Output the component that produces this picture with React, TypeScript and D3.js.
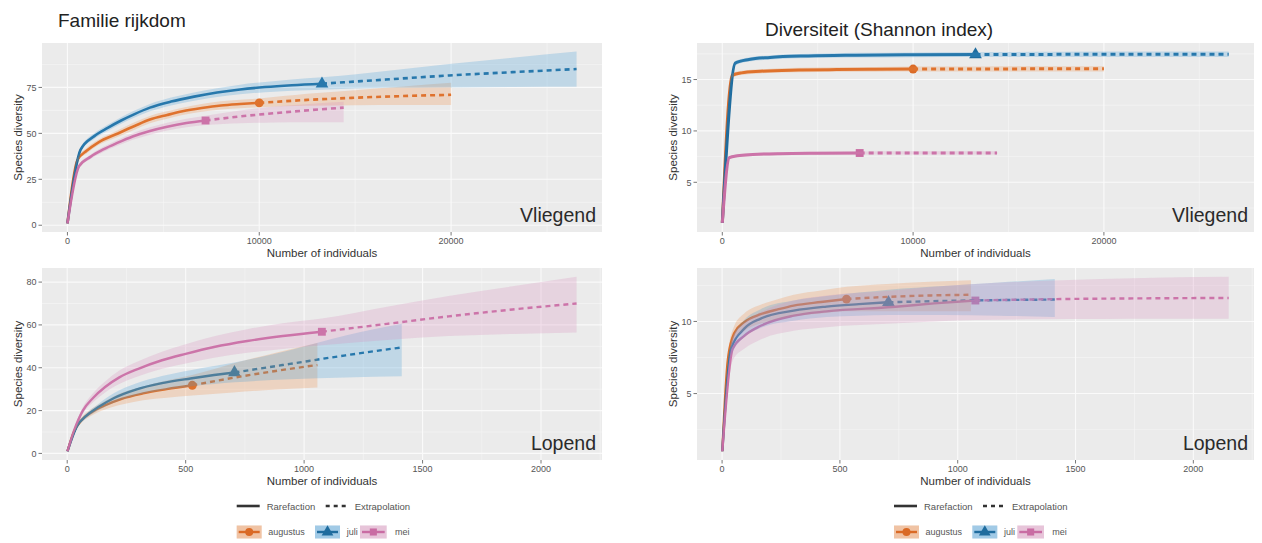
import React from 'react';
import * as d3 from 'd3';

type Pt = [number, number, number, number]; // [individuals, estimate, lower, upper]

const seriesNames = ['augustus', 'juli', 'mei'];
const lineColors = ['#DA6A26', '#1F6C9E', '#C96CA3'];
const fillColors = ['#EE8A45', '#3E9AD6', '#D98CBB'];
const shapeTypes = [d3.symbolCircle, d3.symbolTriangle, d3.symbolSquare];

// Vliegend – family richness
const richFlyAugustus: Pt[] = [
  [1, 1, 1, 1], [520, 35.5, 34.5, 36.5], [1000, 40.5, 39, 42], [1600, 45, 43.5, 46.5],
  [2600, 49.8, 48, 51.5], [3500, 54, 52, 56], [4300, 57.5, 55.5, 59.5], [5200, 60, 58, 62],
  [6000, 62, 60, 64], [7000, 63.8, 61.7, 66], [8000, 65.2, 63, 67.5], [9000, 66, 63.7, 68.3],
  [10000, 66.6, 64.2, 69], [12500, 68.2, 65, 71.5], [15000, 69.4, 65.3, 73.5],
  [17500, 70.3, 65.4, 75.5], [20000, 71, 65.4, 77.5],
];
const richFlyJuli: Pt[] = [
  [1, 1, 1, 1], [680, 41, 40, 42], [1400, 48.5, 47, 50], [2100, 53, 51.3, 54.7],
  [2800, 57, 55.2, 58.8], [3500, 60.5, 58.6, 62.4], [4300, 64, 62, 66], [5400, 67.3, 65.2, 69.5],
  [6600, 70, 67.8, 72.3], [7800, 72.2, 69.8, 74.6], [9000, 73.9, 71.3, 76.5], [10300, 75.2, 72.4, 78],
  [11700, 76.2, 73.2, 79.3], [13270, 77, 73.8, 80.5], [16600, 79.3, 74.8, 84],
  [19900, 81.5, 75, 87.8], [23200, 83.3, 75.2, 91.2], [26540, 85, 75.3, 94.5],
];
const richFlyMei: Pt[] = [
  [1, 1, 1, 1], [600, 32, 31, 33], [1200, 37.2, 36, 38.4], [1900, 41.4, 40, 42.8],
  [2600, 44.8, 43.2, 46.4], [3400, 48.3, 46.5, 50.1], [4300, 51.3, 49.3, 53.3], [5200, 53.6, 51.5, 55.8],
  [6200, 55.6, 53.3, 58], [7200, 57, 54.5, 59.6], [9000, 59.2, 55.5, 62.5], [10800, 61, 55.9, 64.6],
  [12600, 62.6, 56, 66], [14400, 64, 56, 67.2],
];

// Vliegend – Shannon diversity
const shanFlyAugustus: Pt[] = [
  [1, 1.05, 1, 1.1], [520, 15.4, 15.2, 15.6], [1000, 15.65, 15.45, 15.85], [2000, 15.8, 15.6, 16.0],
  [4000, 15.92, 15.7, 16.14], [6000, 15.97, 15.75, 16.2], [8000, 16.0, 15.77, 16.23],
  [10000, 16.02, 15.78, 16.26], [13300, 16.03, 15.78, 16.28], [16700, 16.04, 15.78, 16.3],
  [20000, 16.04, 15.78, 16.3],
];
const shanFlyJuli: Pt[] = [
  [1, 1.05, 1, 1.1], [680, 16.6, 16.4, 16.8], [1400, 16.95, 16.75, 17.15], [2500, 17.15, 16.95, 17.35],
  [4500, 17.3, 17.1, 17.5], [7000, 17.37, 17.15, 17.6], [10000, 17.41, 17.18, 17.64],
  [13270, 17.43, 17.2, 17.66], [17700, 17.45, 17.2, 17.7], [22100, 17.46, 17.2, 17.72],
  [26540, 17.46, 17.2, 17.72],
];
const shanFlyMei: Pt[] = [
  [1, 1.05, 1, 1.1], [370, 7.4, 7.3, 7.5], [800, 7.58, 7.46, 7.7], [1600, 7.7, 7.57, 7.83],
  [3000, 7.79, 7.65, 7.93], [5000, 7.83, 7.69, 7.97], [7200, 7.85, 7.7, 8.0],
  [9600, 7.86, 7.7, 8.02], [12000, 7.86, 7.7, 8.02], [14400, 7.86, 7.7, 8.03],
];

// Lopend – family richness
const richWalkAugustus: Pt[] = [
  [1, 1, 1, 1], [30, 10.5, 9.8, 11.2], [60, 15.5, 14.3, 16.7], [100, 19, 17.5, 20.6],
  [160, 22.5, 20.5, 24.5], [230, 25.5, 22.8, 28.3], [320, 28, 24.8, 31.3], [420, 30, 26, 34],
  [528, 31.8, 27, 36.6], [700, 35.3, 28.5, 42], [880, 38.5, 29.8, 47], [1056, 41.3, 30.8, 51.5],
];
const richWalkJuli: Pt[] = [
  [1, 1, 1, 1], [40, 12.5, 11.8, 13.2], [80, 17.5, 16.4, 18.6], [130, 21.5, 20, 23],
  [200, 26, 23.8, 28.3], [290, 29.8, 27, 32.6], [400, 32.8, 29.5, 36.1], [520, 35, 31.3, 38.8],
  [620, 36.6, 32.4, 40.8], [706, 37.8, 33.2, 42.5], [940, 41.8, 34.6, 48.2],
  [1175, 45.8, 35.4, 55], [1412, 49.5, 36, 60.5],
];
const richWalkMei: Pt[] = [
  [1, 1, 1, 1], [30, 11, 10.2, 11.8], [66, 20, 18.6, 21.5], [110, 26, 24, 28.2],
  [160, 31, 28.5, 33.6], [220, 35.5, 32.4, 38.7], [300, 39.5, 36, 43], [400, 43.5, 39.5, 47.5],
  [500, 46.5, 42, 51], [620, 49.7, 44.7, 54.7], [760, 52.5, 47, 58], [910, 54.8, 48.8, 60.8],
  [1075, 56.8, 50.5, 63], [1350, 60.5, 53, 68.5], [1610, 64, 54.8, 73.5],
  [1880, 67.2, 55.8, 78], [2150, 70, 56.5, 82.5],
];

// Lopend – Shannon diversity
const shanWalkAugustus: Pt[] = [
  [1, 1, 1, 1], [25, 7.4, 7, 7.8], [52, 9.2, 8.7, 9.7], [94, 9.95, 9.35, 10.55],
  [164, 10.5, 9.85, 11.15], [240, 10.85, 10.15, 11.55], [304, 11.1, 10.35, 11.85],
  [420, 11.35, 10.55, 12.15], [528, 11.55, 10.7, 12.4], [700, 11.7, 10.7, 12.6],
  [880, 11.8, 10.7, 12.75], [1056, 11.85, 10.7, 12.85],
];
const shanWalkJuli: Pt[] = [
  [1, 1, 1, 1], [38, 8.1, 7.6, 8.6], [94, 9.5, 8.9, 10.1], [164, 10.2, 9.55, 10.85],
  [304, 10.75, 10.05, 11.45], [443, 11.03, 10.3, 11.76], [580, 11.2, 10.4, 12.0],
  [706, 11.33, 10.45, 12.2], [940, 11.42, 10.45, 12.45], [1175, 11.48, 10.4, 12.7],
  [1412, 11.52, 10.3, 12.94],
];
const shanWalkMei: Pt[] = [
  [1, 1, 1, 1], [45, 8.1, 7.3, 8.9], [94, 9.0, 8.1, 9.9], [164, 9.7, 8.75, 10.65],
  [304, 10.4, 9.35, 11.45], [443, 10.7, 9.6, 11.8], [723, 11.0, 9.85, 12.15],
  [900, 11.25, 10.0, 12.4], [1075, 11.45, 10.1, 12.6], [1340, 11.53, 10.15, 12.8],
  [1610, 11.58, 10.17, 12.95], [1880, 11.61, 10.18, 13.05], [2150, 11.63, 10.18, 13.1],
];

const observedFly = [10000, 13270, 7200];
const observedWalk = [528, 706, 1075];

const xTicksFly = [0, 10000, 20000];
const xTicksWalk = [0, 500, 1000, 1500, 2000];
const yTicksRichFly = [0, 25, 50, 75];
const yTicksShanFly = [5, 10, 15];
const yTicksRichWalk = [0, 20, 40, 60, 80];
const yTicksShanWalk = [5, 10];

const FONT = "'Liberation Sans', Arial, Helvetica, sans-serif";

function minorBreaks(ticks: number[], dom: number[]) {
  const step = ticks.length > 1 ? ticks[1] - ticks[0] : 1;
  const out: number[] = [];
  for (let v = ticks[0] - step / 2; v <= dom[1]; v += step) {
    if (v >= dom[0]) out.push(v);
  }
  return out;
}

function Panel(props: {
  box: number[]; data: Pt[][]; observed: number[]; xTicks: number[]; yTicks: number[]; facet: string; lw: number;
}) {
  const { box, data, observed, xTicks, yTicks, facet, lw } = props;
  const [x0, x1, y0, y1] = box;
  const all = data.flat();
  const xmin = d3.min(all, d => d[0])!, xmax = d3.max(all, d => d[0])!;
  const ymin = d3.min(all, d => d[2])!, ymax = d3.max(all, d => d[3])!;
  const xr = xmax - xmin, yr = ymax - ymin;
  const x = d3.scaleLinear().domain([xmin - 0.05 * xr, xmax + 0.05 * xr]).range([x0, x1]);
  const y = d3.scaleLinear().domain([ymin - 0.05 * yr, ymax + 0.05 * yr]).range([y1, y0]);
  const xMinor = minorBreaks(xTicks, x.domain());
  const yMinor = minorBreaks(yTicks, y.domain());
  const line = d3.line<Pt>().x(d => x(d[0])).y(d => y(d[1])).curve(d3.curveMonotoneX);
  const area = d3.area<Pt>().x(d => x(d[0])).y0(d => y(d[2])).y1(d => y(d[3])).curve(d3.curveMonotoneX);

  return (
    <g>
      <rect x={x0} y={y0} width={x1 - x0} height={y1 - y0} fill="#EBEBEB" />
      {xMinor.map(v => <line key={'xm' + v} x1={x(v)} x2={x(v)} y1={y0} y2={y1} stroke="#F7F7F7" strokeWidth={0.6} />)}
      {yMinor.map(v => <line key={'ym' + v} x1={x0} x2={x1} y1={y(v)} y2={y(v)} stroke="#F7F7F7" strokeWidth={0.6} />)}
      {xTicks.map(v => <line key={'xg' + v} x1={x(v)} x2={x(v)} y1={y0} y2={y1} stroke="#FAFAFA" strokeWidth={1.1} />)}
      {yTicks.map(v => <line key={'yg' + v} x1={x0} x2={x1} y1={y(v)} y2={y(v)} stroke="#FAFAFA" strokeWidth={1.1} />)}
      {data.map((s, i) => {
        const p = s.find(d => d[0] === observed[i])!;
        const sym = d3.symbol().type(shapeTypes[i]).size(i === 1 ? 70 : 62)();
        return <path key={'pt' + i} d={sym || ''} transform={`translate(${x(p[0])},${y(p[1])})`} fill={lineColors[i]} />;
      })}
      {data.map((s, i) => (
        <g key={'ln' + i}>
          <path d={line(s.filter(d => d[0] <= observed[i])) || ''} fill="none" stroke={lineColors[i]} strokeWidth={lw} />
          <path d={line(s.filter(d => d[0] >= observed[i])) || ''} fill="none" stroke={lineColors[i]} strokeWidth={lw} strokeDasharray="5 4" />
        </g>
      ))}
      {data.map((s, i) => (
        <path key={'rb' + i} d={area(s) || ''} fill={fillColors[i]} fillOpacity={0.25} stroke="none" />
      ))}
      {xTicks.map(v => (
        <g key={'xt' + v}>
          <line x1={x(v)} x2={x(v)} y1={y1} y2={y1 + 3.5} stroke="#555" strokeWidth={0.8} />
          <text x={x(v)} y={y1 + 11.5} fontSize={9} fill="#555" textAnchor="middle">{String(v)}</text>
        </g>
      ))}
      {yTicks.map(v => (
        <g key={'yt' + v}>
          <line x1={x0 - 3.5} x2={x0} y1={y(v)} y2={y(v)} stroke="#555" strokeWidth={0.8} />
          <text x={x0 - 5.5} y={y(v) + 3.2} fontSize={9} fill="#555" textAnchor="end">{String(v)}</text>
        </g>
      ))}
      <text x={(x0 + x1) / 2} y={y1 + 24.5} fontSize={11.5} fill="#333" textAnchor="middle">Number of individuals</text>
      <text transform={`translate(${x0 - 24},${(y0 + y1) / 2}) rotate(-90)`} fontSize={11.5} fill="#333" textAnchor="middle" dominantBaseline="central">Species diversity</text>
      <text x={x1 - 6} y={y1 - 10} fontSize={19.5} fill="#2A2A2A" textAnchor="end">{facet}</text>
    </g>
  );
}

function Legend({ x0, y0 }: { x0: number; y0: number }) {
  const y2 = y0 + 26;
  const boxX = [0, 78.3, 123.3];
  const boxW = [25, 25, 26.7];
  const textX = [31.6, 110, 158.3];
  return (
    <g>
      <line x1={x0} x2={x0 + 23} y1={y0} y2={y0} stroke="#333" strokeWidth={2.6} />
      <text x={x0 + 30} y={y0 + 3.5} fontSize={9.5} fill="#555">Rarefaction</text>
      <line x1={x0 + 89} x2={x0 + 110} y1={y0} y2={y0} stroke="#333" strokeWidth={2.6} strokeDasharray="4 4" />
      <text x={x0 + 118} y={y0 + 3.5} fontSize={9.5} fill="#555">Extrapolation</text>
      {seriesNames.map((n, i) => {
        const bx = x0 + boxX[i];
        const sym = d3.symbol().type(shapeTypes[i]).size(i === 1 ? 60 : 50)();
        return (
          <g key={n}>
            <rect x={bx} y={y2 - 6.5} width={boxW[i]} height={13} fill="#F2F2F2" />
            <rect x={bx} y={y2 - 6.5} width={boxW[i]} height={13} fill={fillColors[i]} fillOpacity={0.45} />
            <line x1={bx + 2} x2={bx + boxW[i] - 2} y1={y2} y2={y2} stroke={lineColors[i]} strokeWidth={2.4} />
            <path d={sym || ''} transform={`translate(${bx + boxW[i] / 2},${y2})`} fill={lineColors[i]} />
            <text x={x0 + textX[i]} y={y2 + 3.3} fontSize={9} fill="#555">{n}</text>
          </g>
        );
      })}
    </g>
  );
}

export default function App() {
  return (
    <svg width={1262} height={543} style={{ position: 'absolute', left: 0, top: 0, background: '#fff' }} fontFamily={FONT}>
      <text x={58} y={27} fontSize={19} fill="#222">Familie rijkdom</text>
      <text x={765} y={36} fontSize={19} fill="#222">Diversiteit (Shannon index)</text>
      <Panel box={[42, 602, 43, 232]} data={[richFlyAugustus, richFlyJuli, richFlyMei]} observed={observedFly}
        xTicks={xTicksFly} yTicks={yTicksRichFly} facet="Vliegend" lw={2.6} />
      <Panel box={[697, 1254, 43, 232]} data={[shanFlyAugustus, shanFlyJuli, shanFlyMei]} observed={observedFly}
        xTicks={xTicksFly} yTicks={yTicksShanFly} facet="Vliegend" lw={3} />
      <Panel box={[42, 602, 268, 460]} data={[richWalkAugustus, richWalkJuli, richWalkMei]} observed={observedWalk}
        xTicks={xTicksWalk} yTicks={yTicksRichWalk} facet="Lopend" lw={2.4} />
      <Panel box={[697, 1254, 268, 460]} data={[shanWalkAugustus, shanWalkJuli, shanWalkMei]} observed={observedWalk}
        xTicks={xTicksWalk} yTicks={yTicksShanWalk} facet="Lopend" lw={2.4} />
      <Legend x0={236.7} y0={506} />
      <Legend x0={894} y0={506} />
    </svg>
  );
}
